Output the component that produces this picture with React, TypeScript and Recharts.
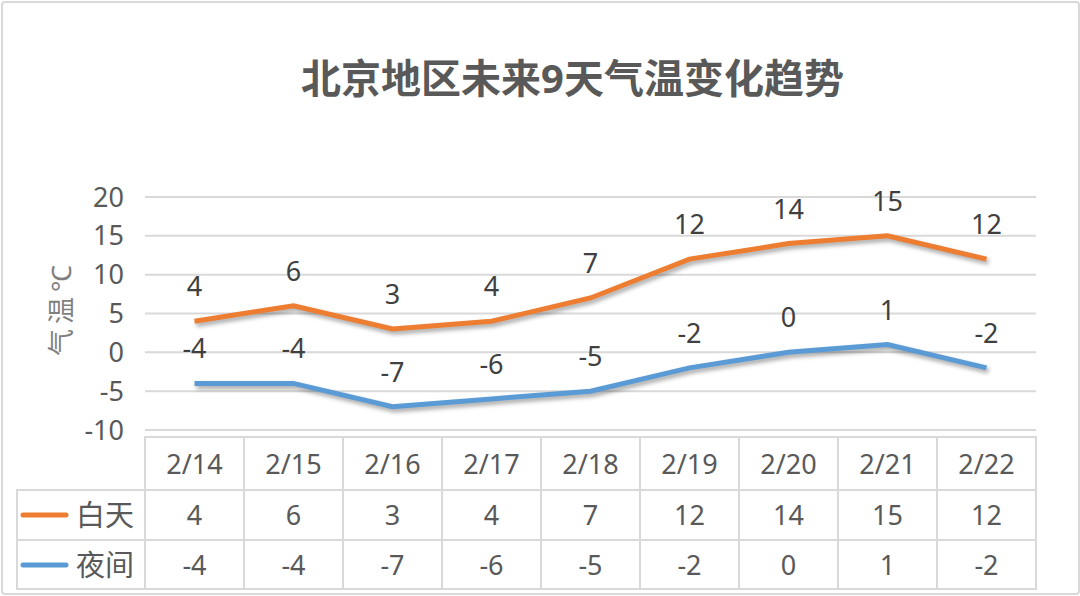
import React from "react";
import { LineChart, Line, XAxis, YAxis, CartesianGrid, LabelList } from "recharts";

const dates = ["2/14", "2/15", "2/16", "2/17", "2/18", "2/19", "2/20", "2/21", "2/22"];
const dayTemps = [4, 6, 3, 4, 7, 12, 14, 15, 12];
const nightTemps = [-4, -4, -7, -6, -5, -2, 0, 1, -2];
const yTicks = [-10, -5, 0, 5, 10, 15, 20];
const seriesNames = ["白天", "夜间"];

const W = 1080;
const H = 596;
const MARGIN = { top: 197, right: 44, left: 0, bottom: 5 };
const Y_WIDTH = 145;
const BAND = (W - MARGIN.right - Y_WIDTH) / dates.length;

const ORANGE = "#ED7D31";
const BLUE = "#5B9BD5";
const GRID = "#d9d9d9";
const TEXT = "#595959";
const FONT = "'Noto Sans', 'Noto Sans CJK SC', sans-serif";

const data = dates.map((d, i) => ({ date: d, day: dayTemps[i], night: nightTemps[i] }));

// each x tick draws its own column of the data table
const TableTick = (props: any) => {
  const { x, y, payload } = props;
  const i = payload.index;
  const left = x - BAND / 2;
  const top = y + 7;
  const rowH = [53, 50, 49];
  const r1 = top + rowH[0];
  const r2 = r1 + rowH[1];
  const cell = { fill: "none", stroke: GRID, strokeWidth: 2 };
  const txt = { fontSize: 27, fill: TEXT, fontFamily: FONT, textAnchor: "middle" as const };
  return (
    <g>
      <rect x={left} y={top} width={BAND} height={rowH[0]} {...cell} />
      <rect x={left} y={r1} width={BAND} height={rowH[1]} {...cell} />
      <rect x={left} y={r2} width={BAND} height={rowH[2]} {...cell} />
      <text x={x} y={top + 37} {...txt}>{payload.value}</text>
      <text x={x} y={r1 + 35} {...txt}>{dayTemps[i]}</text>
      <text x={x} y={r2 + 35} {...txt}>{nightTemps[i]}</text>
      {i === 0 && (
        <g>
          <rect x={17} y={r1} width={left - 17} height={rowH[1]} {...cell} />
          <rect x={17} y={r2} width={left - 17} height={rowH[2]} {...cell} />
          <line x1={23} x2={66} y1={r1 + 25} y2={r1 + 25} stroke={ORANGE} strokeWidth={5} strokeLinecap="round" />
          <line x1={23} x2={66} y1={r2 + 25} y2={r2 + 25} stroke={BLUE} strokeWidth={5} strokeLinecap="round" />
          <text x={76} y={r1 + 36} fontSize={29} fill={TEXT} fontFamily={FONT}>{seriesNames[0]}</text>
          <text x={76} y={r2 + 36} fontSize={29} fill={TEXT} fontFamily={FONT}>{seriesNames[1]}</text>
        </g>
      )}
    </g>
  );
};

const YLabel = () => (
  <text
    transform="translate(71,308) rotate(-90)"
    textAnchor="middle"
    fontSize={27}
    letterSpacing={5}
    fill="#7f7f7f"
    fontFamily={FONT}
  >
    气温℃
  </text>
);

export default function App() {
  return (
    <div style={{ position: "absolute", left: 0, top: 0, width: W, height: H, background: "#fff" }}>
      <style>{`.recharts-line-curve { filter: drop-shadow(2px 3px 2px rgba(0,0,0,0.35)); }`}</style>
      <div
        style={{
          position: "absolute",
          left: 1,
          top: 1,
          width: W - 5,
          height: H - 6,
          border: `2px solid ${GRID}`,
          borderRadius: 4,
        }}
      />
      <div
        style={{
          position: "absolute",
          left: 0,
          width: 1145,
          top: 52,
          textAlign: "center",
          fontFamily: FONT,
          fontWeight: 700,
          fontSize: 40,
          color: TEXT,
          lineHeight: "52px",
        }}
      >
        北京地区未来9天气温变化趋势
      </div>
      <LineChart width={W} height={H} data={data} margin={MARGIN} style={{ position: "absolute", left: 0, top: 0 }}>
        <CartesianGrid vertical={false} stroke={GRID} strokeWidth={2} />
        <XAxis
          dataKey="date"
          height={H - MARGIN.top - MARGIN.bottom - 233}
          interval={0}
          padding={{ left: BAND / 2, right: BAND / 2 }}
          tickSize={0}
          tickMargin={0}
          axisLine={false}
          tick={<TableTick />}
        />
        <YAxis
          width={Y_WIDTH}
          domain={[-10, 20]}
          ticks={yTicks}
          interval={0}
          tickSize={0}
          tickMargin={21}
          axisLine={false}
          tick={{ fontSize: 27, fill: TEXT, fontFamily: FONT }}
          label={<YLabel />}
        />
        <Line
          type="linear"
          dataKey="day"
          name={seriesNames[0]}
          stroke={ORANGE}
          strokeWidth={5}
          dot={false}
          isAnimationActive={false}
        >
          <LabelList dataKey="day" position="top" offset={25} style={{ fontSize: 27, fill: "#404040", fontFamily: FONT }} />
        </Line>
        <Line
          type="linear"
          dataKey="night"
          name={seriesNames[1]}
          stroke={BLUE}
          strokeWidth={5}
          dot={false}
          isAnimationActive={false}
        >
          <LabelList dataKey="night" position="top" offset={25} style={{ fontSize: 27, fill: "#404040", fontFamily: FONT }} />
        </Line>
      </LineChart>
    </div>
  );
}
